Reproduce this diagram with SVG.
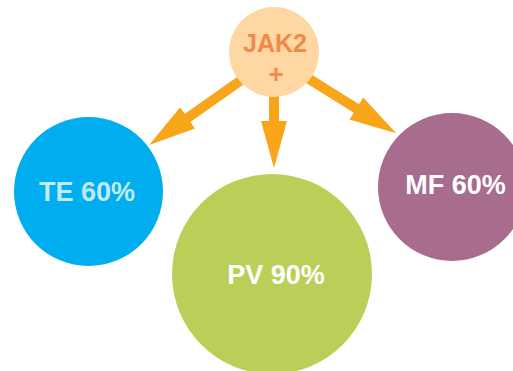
<svg xmlns="http://www.w3.org/2000/svg" width="513" height="371" viewBox="0 0 513 371">
<style>
.lbl{font-family:"Liberation Sans",Arial,sans-serif;font-weight:bold;text-anchor:middle}
.conn{stroke:#F9A51A;stroke-width:10;fill:none}
</style>
<defs>
<marker id="ah" viewBox="0 0 47 26" markerWidth="47" markerHeight="26" markerUnits="userSpaceOnUse" refX="2" refY="13" orient="auto">
<path d="M0,0 L47,13 L0,26 Z" fill="#F9A51A"/>
</marker>
</defs>
<rect width="513" height="371" fill="#FFFFFF"/>
<g id="connectors">
<line class="conn" x1="274" y1="90" x2="274" y2="123" marker-end="url(#ah)"/>
<line class="conn" x1="250" y1="74" x2="186" y2="119" marker-end="url(#ah)"/>
<line class="conn" x1="298" y1="72" x2="358" y2="109.5" marker-end="url(#ah)"/>
</g>
<g id="node-te">
<circle cx="88.5" cy="191.5" r="74.5" fill="#00AEEF"/>
<text class="lbl" x="87" y="201" font-size="27" fill="#C3E8F8">TE 60%</text>
</g>
<g id="node-pv">
<circle cx="272" cy="274" r="100" fill="#BACF57"/>
<text class="lbl" x="276" y="284" font-size="27" fill="#FFFFFF">PV 90%</text>
</g>
<g id="node-mf">
<circle cx="452" cy="187" r="74" fill="#A86C8E"/>
<text class="lbl" x="455.5" y="194" font-size="27" fill="#FFFFFF">MF 60%</text>
</g>
<g id="node-jak2">
<circle cx="274" cy="52" r="45" fill="#FED7A2"/>
<text class="lbl" x="275" y="52" font-size="25" fill="#F0894C">JAK2</text>
<text class="lbl" x="276" y="83" font-size="26" fill="#F0894C">+</text>
</g>
</svg>
